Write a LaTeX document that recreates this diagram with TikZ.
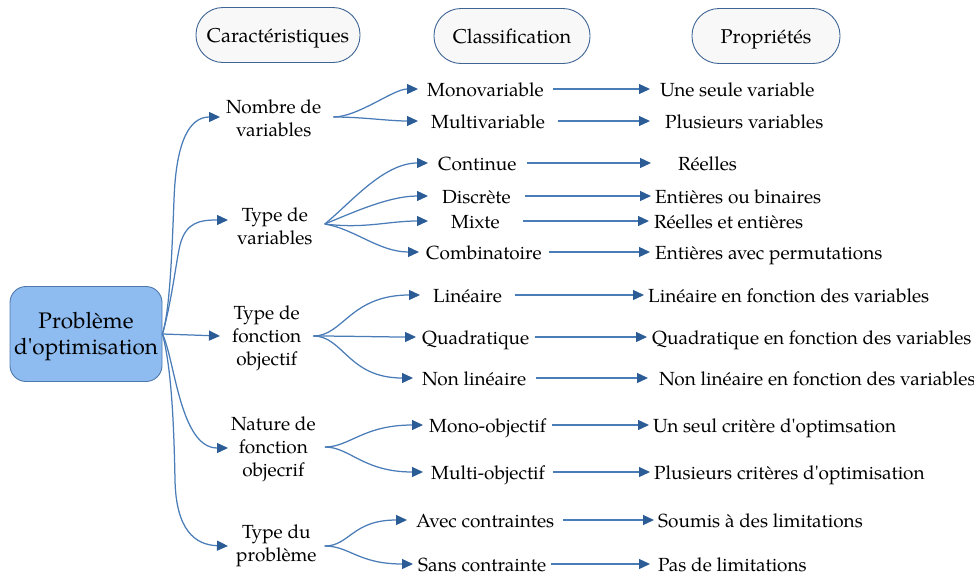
\documentclass[tikz,border=0pt]{standalone}
\usepackage{fontspec}
\setmainfont{TeX Gyre Pagella}
\usetikzlibrary{arrows.meta}
\definecolor{lineblue}{HTML}{4A7CB8}
\definecolor{tipblue}{HTML}{2C5C96}
\definecolor{mainfill}{HTML}{8EBCF0}
\definecolor{mainborder}{HTML}{4F79AC}
\definecolor{headfill}{HTML}{F8F8F8}
\definecolor{headborder}{HTML}{3F6595}
\begin{document}
\begin{tikzpicture}[x=1pt,y=-1pt,
  arr/.style={draw=lineblue, line width=1.25pt, -{Triangle[length=11pt,width=10pt,color=tipblue]}},
  head/.style={draw=headborder, fill=headfill, line width=0.9pt, rounded corners=27pt, minimum height=55pt, font=\fontsize{20}{23}\selectfont, inner sep=0pt, text height=18pt, text depth=4pt},
  mainbox/.style={draw=mainborder, fill=mainfill, line width=0.9pt, rounded corners=16pt, minimum width=152pt, minimum height=95pt, inner sep=0pt},
  maintext/.style={align=center, font=\fontsize{22.5}{26}\selectfont, inner sep=0pt},
  lvlone/.style={anchor=west, align=center, inner ysep=0pt, font=\fontsize{19}{23}\selectfont, inner xsep=#1},
  txt/.style={anchor=west, inner ysep=0pt, text height=14pt, text depth=0pt, font=\fontsize{19}{23}\selectfont, inner xsep=#1},
]
\useasboundingbox (0,0) rectangle (974,576);
% headers
\node[head, minimum width=164pt] (h1) at (278,35) {Caractéristiques};
\node[head, minimum width=156pt] (h2) at (512,36) {Classification};
\node[head, minimum width=148pt] (h3) at (766,36) {Propriétés};
% main
\node[mainbox] (main) at (86,334) {};
\node[maintext] (maintxt) at (main.center) [yshift=-2pt] {Problème\\d\textquotesingle optimisation};
% level one
\node[lvlone=6pt] (nb) at (220,118) {Nombre de\\variables};
\node[lvlone=9pt] (tv) at (228,226) {Type de\\variables};
\node[lvlone=12pt] (tf) at (220,338) {Type de\\fonction\\objectif};
\node[lvlone=3pt] (nf) at (228,449) {Nature de\\fonction\\objecrif};
\node[lvlone=8pt] (tp) at (228,546) {Type du\\problème};
% level two
\node[txt=9pt] (mono) at (418,89) {Monovariable};
\node[txt=13pt] (multi) at (418,121) {Multivariable};
\node[txt=10pt] (cont) at (428,163) {Continue};
\node[txt=14pt] (disc) at (428,196) {Discrète};
\node[txt=23pt] (mixte) at (428,221) {Mixte};
\node[txt=7pt] (comb) at (419,252) {Combinatoire};
\node[txt=13pt] (lin) at (420,295) {Linéaire};
\node[txt=6pt] (quad) at (416,337) {Quadratique};
\node[txt=9pt] (nonlin) at (413,378) {Non linéaire};
\node[txt=6pt] (monoobj) at (423,425) {Mono-objectif};
\node[txt=8pt] (multiobj) at (423,472) {Multi-objectif};
\node[txt=9pt] (avec) at (407,520) {Avec contraintes};
\node[txt=5pt] (sans) at (413,564) {Sans contrainte};
% level three
\node[txt=10pt] (p1) at (650,89) {Une seule variable};
\node[txt=15pt] (p2) at (650,121) {Plusieurs variables};
\node[txt=27pt] (p3) at (651,163) {Réelles};
\node[txt=4pt] (p4) at (651,196) {Entières ou binaires};
\node[txt=5pt] (p5) at (649,221) {Réelles et entières};
\node[txt=5pt] (p6) at (650,252) {Entières avec permutations};
\node[txt=4pt] (p7) at (644,295) {Linéaire en fonction des variables};
\node[txt=5pt] (p8) at (647,337) {Quadratique en fonction des variables};
\node[txt=11pt] (p9) at (648,378) {Non linéaire en fonction des variables};
\node[txt=4pt] (p10) at (649,425) {Un seul critère d\textquotesingle optimsation};
\node[txt=4pt] (p11) at (650,472) {Plusieurs critères d\textquotesingle optimisation};
\node[txt=4pt] (p12) at (654,520) {Soumis à des limitations};
\node[txt=8pt] (p13) at (650,564) {Pas de limitations};
% main edges
\draw[arr] (main.east) .. controls (170,310) and (172,250) .. (174,200) .. controls (176,140) and (190,117) .. ([yshift=1pt]nb.west);
\draw[arr] (main.east) .. controls (172,300) and (176,262) .. (180,245) .. controls (186,222) and (200,220) .. ([yshift=6pt]tv.west);
\draw[arr] (main.east) -- ([yshift=2pt]tf.west);
\draw[arr] (main.east) .. controls (175,360) and (180,448) .. ([yshift=1pt]nf.west);
\draw[arr] (main.east) .. controls (172,370) and (174,430) .. (175,480) .. controls (176,530) and (195,545) .. (tp.west);
% level one to two
\draw[arr] ([xshift=6pt,yshift=1pt]nb.east) .. controls +(25,0) and +(-25,0) .. (mono.west);
\draw[arr] ([xshift=6pt,yshift=1pt]nb.east) .. controls +(30,0) and +(-30,0) .. (multi.west);
\draw[arr] ([xshift=3pt,yshift=2pt]tv.east) .. controls +(25,-20) and +(-45,0) .. (cont.west);
\draw[arr] ([xshift=3pt,yshift=2pt]tv.east) .. controls +(25,-10) and +(-40,0) .. (disc.west);
\draw[arr] ([xshift=3pt,yshift=2pt]tv.east) .. controls +(40,5) and +(-40,0) .. (mixte.west);
\draw[arr] ([xshift=3pt,yshift=2pt]tv.east) .. controls +(30,5) and +(-40,0) .. (comb.west);
\draw[arr] ([yshift=2pt]tf.east) .. controls +(30,0) and +(-70,0) .. (lin.west);
\draw[arr] ([yshift=2pt]tf.east) .. controls +(30,0) and +(-30,0) .. (quad.west);
\draw[arr] ([yshift=2pt]tf.east) .. controls +(30,0) and +(-65,0) .. (nonlin.west);
\draw[arr] ([xshift=6pt,yshift=2pt]nf.east) .. controls +(25,0) and +(-60,0) .. (monoobj.west);
\draw[arr] ([xshift=6pt,yshift=2pt]nf.east) .. controls +(25,0) and +(-60,0) .. (multiobj.west);
\draw[arr] (tp.east) .. controls +(25,0) and +(-55,0) .. (avec.west);
\draw[arr] (tp.east) .. controls +(25,0) and +(-55,0) .. (sans.west);
% level two to three
\draw[arr] (mono.east) -- (p1.west);
\draw[arr] (multi.east) -- (p2.west);
\draw[arr] (cont.east) -- (p3.west);
\draw[arr] (disc.east) -- (p4.west);
\draw[arr] (mixte.east) -- (p5.west);
\draw[arr] (comb.east) -- (p6.west);
\draw[arr] (lin.east) -- (p7.west);
\draw[arr] (quad.east) -- (p8.west);
\draw[arr] (nonlin.east) -- (p9.west);
\draw[arr] (monoobj.east) -- (p10.west);
\draw[arr] (multiobj.east) -- (p11.west);
\draw[arr] (avec.east) -- (p12.west);
\draw[arr] (sans.east) -- (p13.west);
\end{tikzpicture}
\end{document}
